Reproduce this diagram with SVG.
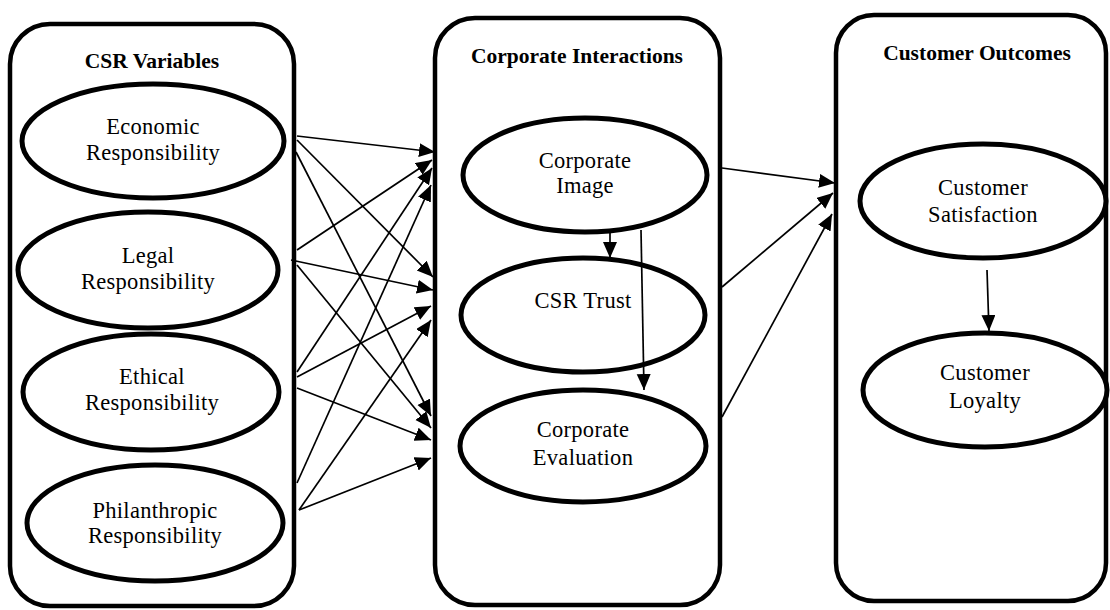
<svg xmlns="http://www.w3.org/2000/svg" width="1110" height="610" viewBox="0 0 1110 610">
<style>
.box{fill:#fff;stroke:#000;stroke-width:4.5}
.ell{fill:#fff;stroke:#000;stroke-width:5}
.title{font-family:"Liberation Serif","Times New Roman",serif;font-weight:bold;font-size:21.5px;text-anchor:middle;fill:#000}
.lbl{font-family:"Liberation Serif","Times New Roman",serif;font-size:22.5px;letter-spacing:0.3px;text-anchor:middle;fill:#000}
.con{stroke:#000;stroke-width:1.7;fill:none;marker-end:url(#ah)}
</style>
<defs>
<marker id="ah" markerUnits="userSpaceOnUse" markerWidth="17" markerHeight="15" refX="16" refY="7" orient="auto">
<path d="M0,0 L16,7 L0,14 Z" fill="#000"/>
</marker>
</defs>
<g id="csr-variables">
<rect class="box" x="10" y="24" width="284" height="582" rx="40"/>
<text class="title" x="152" y="68">CSR Variables</text>
</g>
<g id="corporate-interactions">
<rect class="box" x="435" y="18" width="285" height="587" rx="40"/>
<text class="title" x="577" y="63">Corporate Interactions</text>
</g>
<g id="customer-outcomes">
<rect class="box" x="836" y="15" width="270" height="586" rx="38"/>
<text class="title" x="977" y="60">Customer Outcomes</text>
</g>
<g id="economic">
<ellipse class="ell" cx="153" cy="141" rx="131" ry="57"/>
<text class="lbl" x="153" y="134">Economic</text>
<text class="lbl" x="153" y="160">Responsibility</text>
</g>
<g id="legal">
<ellipse class="ell" cx="148" cy="270" rx="130" ry="58"/>
<text class="lbl" x="148" y="263">Legal</text>
<text class="lbl" x="148" y="289">Responsibility</text>
</g>
<g id="ethical">
<ellipse class="ell" cx="151" cy="392" rx="128" ry="58"/>
<text class="lbl" x="152" y="384">Ethical</text>
<text class="lbl" x="152" y="410">Responsibility</text>
</g>
<g id="philanthropic">
<ellipse class="ell" cx="155" cy="523" rx="128" ry="58"/>
<text class="lbl" x="155" y="518">Philanthropic</text>
<text class="lbl" x="155" y="543">Responsibility</text>
</g>
<g id="corporate-image">
<ellipse class="ell" cx="585" cy="175" rx="122" ry="57"/>
<text class="lbl" x="585" y="168">Corporate</text>
<text class="lbl" x="585" y="193">Image</text>
</g>
<g id="csr-trust">
<ellipse class="ell" cx="583" cy="315" rx="122" ry="57"/>
<text class="lbl" x="583" y="308">CSR Trust</text>
</g>
<g id="corporate-evaluation">
<ellipse class="ell" cx="583" cy="446" rx="123" ry="56"/>
<text class="lbl" x="583" y="437">Corporate</text>
<text class="lbl" x="583" y="465">Evaluation</text>
</g>
<g id="customer-satisfaction">
<ellipse class="ell" cx="983" cy="201" rx="123" ry="57"/>
<text class="lbl" x="983" y="195">Customer</text>
<text class="lbl" x="983" y="222">Satisfaction</text>
</g>
<g id="customer-loyalty">
<ellipse class="ell" cx="985" cy="390" rx="122" ry="57"/>
<text class="lbl" x="985" y="380">Customer</text>
<text class="lbl" x="985" y="408">Loyalty</text>
</g>
<g id="connectors">
<line class="con" x1="297" y1="136" x2="435" y2="152"/>
<line class="con" x1="297" y1="140" x2="433" y2="277"/>
<line class="con" x1="296" y1="152" x2="431" y2="416"/>
<line class="con" x1="297" y1="250" x2="432" y2="160"/>
<line class="con" x1="291" y1="260" x2="433" y2="290"/>
<line class="con" x1="297" y1="265" x2="431" y2="428"/>
<line class="con" x1="297" y1="372" x2="432" y2="168"/>
<line class="con" x1="297" y1="377" x2="431" y2="306"/>
<line class="con" x1="297" y1="388" x2="431" y2="440"/>
<line class="con" x1="297" y1="483" x2="431" y2="185"/>
<line class="con" x1="299" y1="510" x2="431" y2="320"/>
<line class="con" x1="299" y1="510" x2="431" y2="458"/>
<line class="con" x1="610" y1="233" x2="610" y2="258"/>
<line class="con" x1="641" y1="230" x2="644" y2="390"/>
<line class="con" x1="722" y1="168" x2="835" y2="183"/>
<line class="con" x1="722" y1="287" x2="833" y2="193"/>
<line class="con" x1="722" y1="417" x2="832" y2="214"/>
<line class="con" x1="987" y1="270" x2="989" y2="331"/>
</g>
</svg>
